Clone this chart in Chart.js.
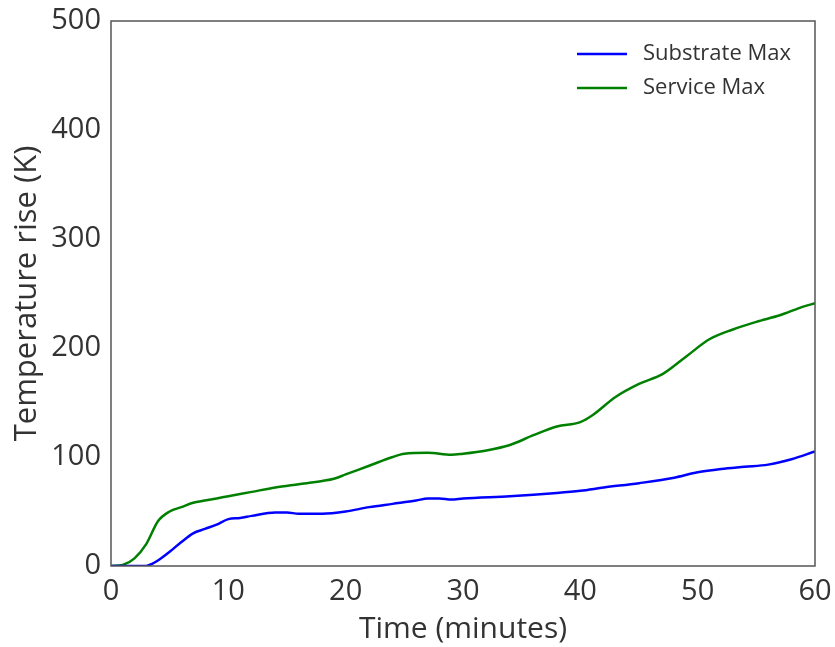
<!DOCTYPE html>
<html>
<head>
<meta charset="utf-8">
<script src="https://cdn.jsdelivr.net/npm/chart.js@4.4.1/dist/chart.umd.min.js"></script>
<style>
  html, body { margin: 0; padding: 0; background: #fff; }
  #wrap { width: 835px; height: 647px; position: relative; }
</style>
</head>
<body>
<div id="wrap"><canvas id="grafico"></canvas></div>
<script>
// dados
const tempoService = [0, 1, 2, 3, 4, 5, 6, 7, 8, 9, 10, 12, 14, 16, 18, 19, 20, 22, 24, 25, 27, 29, 30, 32, 34, 36, 38, 40, 41, 43, 45, 47, 49, 51, 53, 55, 57, 59, 60]
const serviceMax = [0, 1, 7, 20, 41, 50, 54, 58, 60, 62, 64, 68, 72, 75, 78, 80, 84, 92, 100, 103, 104, 102, 103, 106, 111, 120, 128, 132, 138, 155, 167, 176, 192, 208, 217, 224, 230, 238, 241]

const tempoSubstrate = [0, 1, 2, 3, 3.5, 4, 5, 6, 7, 8, 9, 10, 11, 12, 14, 15, 16, 18, 20, 22, 24, 26, 27, 28, 29, 30, 34, 38, 40, 42, 45, 48, 50, 52, 54, 56, 58, 60]
const substrateMax = [0, 0, 0, 0, 2, 5, 13, 22, 30, 34, 38, 43, 44, 46, 49, 49, 48, 48, 50, 54, 57, 60, 62, 62, 61, 62, 64, 67, 69, 72, 76, 81, 86, 89, 91, 93, 98, 105]

const xTicks = [0, 10, 20, 30, 40, 50, 60]
const yTicks = [0, 100, 200, 300, 400, 500]

const fonte = "'Open Sans', sans-serif"
const corTexto = "#333333"

function pontos(xs, ys) {
  return xs.map((x, i) => ({ x: x, y: ys[i] }))
}

// moldura e legenda dentro da área do gráfico
const pluginMoldura = {
  id: "moldura",
  afterDraw(chart) {
    const { ctx, chartArea: a } = chart
    ctx.save()
    ctx.strokeStyle = "#555555"
    ctx.lineWidth = 1.5
    ctx.strokeRect(a.left, a.top, a.right - a.left, a.bottom - a.top)

    ctx.font = "22px " + fonte
    ctx.textBaseline = "middle"
    ctx.textAlign = "left"
    chart.data.datasets.forEach((ds, i) => {
      const y = a.top + 33 + i * 34
      ctx.strokeStyle = ds.borderColor
      ctx.lineWidth = 2.5
      ctx.beginPath()
      ctx.moveTo(a.left + 466, y)
      ctx.lineTo(a.left + 516, y)
      ctx.stroke()
      ctx.fillStyle = corTexto
      ctx.fillText(ds.label, a.left + 532, y)
    })
    ctx.restore()
  },
}

const ctx = document.getElementById("grafico").getContext("2d")
new Chart(ctx, {
  type: "line",
  data: {
    datasets: [
      {
        label: "Substrate Max",
        data: pontos(tempoSubstrate, substrateMax),
        borderColor: "#0000ff",
        borderWidth: 2.5,
        pointRadius: 0,
        cubicInterpolationMode: "monotone",
      },
      {
        label: "Service Max",
        data: pontos(tempoService, serviceMax),
        borderColor: "#008000",
        borderWidth: 2.5,
        pointRadius: 0,
        cubicInterpolationMode: "monotone",
      },
    ],
  },
  options: {
    responsive: true,
    maintainAspectRatio: false,
    animation: false,
    layout: { padding: { top: 21, right: 20, left: 0, bottom: 0 } },
    plugins: {
      legend: { display: false },
      tooltip: { enabled: false },
    },
    scales: {
      x: {
        type: "linear",
        min: 0,
        max: 60,
        afterBuildTicks: (scale) => { scale.ticks = xTicks.map((v) => ({ value: v })) },
        afterFit: (scale) => { scale.height = 81 },
        grid: { display: false },
        border: { display: false },
        ticks: { color: corTexto, font: { family: fonte, size: 29 }, padding: 0 },
        title: {
          display: true,
          text: "Time (minutes)",
          color: corTexto,
          font: { family: fonte, size: 30 },
          padding: { top: 0, bottom: 0 },
        },
      },
      y: {
        min: 0,
        max: 500,
        afterBuildTicks: (scale) => { scale.ticks = yTicks.map((v) => ({ value: v })) },
        afterFit: (scale) => { scale.width = 111 },
        grid: { display: false },
        border: { display: false },
        ticks: { color: corTexto, font: { family: fonte, size: 29 }, padding: 2 },
        title: {
          display: true,
          text: "Temperature rise (K)",
          color: corTexto,
          font: { family: fonte, size: 31 },
          padding: { top: 9, bottom: 0 },
        },
      },
    },
  },
  plugins: [pluginMoldura],
})
</script>
</body>
</html>
